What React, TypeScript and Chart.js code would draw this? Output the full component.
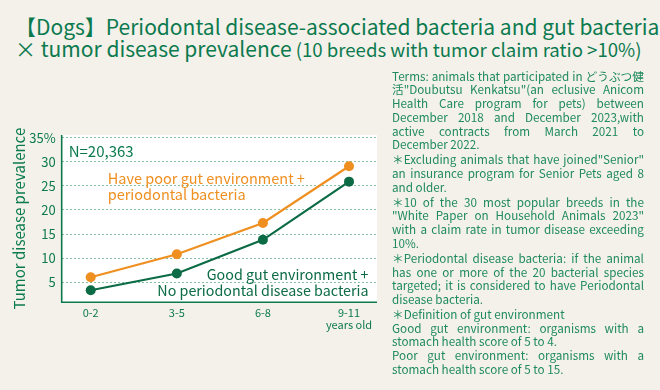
import React, { useEffect, useRef } from 'react';
import { Chart, registerables } from 'chart.js';

Chart.register(...registerables);

// ---- data ----
const ageGroups = ['0-2', '3-5', '6-8', '9-11'];
const ageSubLabels = ['', '', '', 'years old'];
const poorGutWithBacteria = [6.0, 10.8, 17.3, 29.1];
const goodGutNoBacteria = [3.3, 6.8, 13.8, 25.9];
const yTickValues = [5, 10, 15, 20, 25, 30, 35];

const titleLine1 = '【Dogs】Periodontal disease-associated bacteria and gut bacteria';
const titleLine2Main = '× tumor disease prevalence';
const titleLine2Sub = ' (10 breeds with tumor claim ratio >10%)';
const sampleLabel = 'N=20,363';
const poorLabel = ['Have poor gut environment +', 'periodontal bacteria'];
const goodLabel = ['Good gut environment +', 'No periodontal disease bacteria'];
const yAxisTitle = 'Tumor disease prevalence';

// [text, justified?]
const notes: [string, boolean][][] = [
  [
    ['Terms: animals that participated in どうぶつ健', true],
    ['活"Doubutsu Kenkatsu"(an eclusive Anicom', true],
    ['Health Care program for pets) between', true],
    ['December 2018 and December 2023,with', true],
    ['active contracts from March 2021 to', true],
    ['December 2022.', false],
  ],
  [
    ['＊Excluding animals that have joined"Senior"', true],
    ['an insurance program for Senior Pets aged 8', true],
    ['and older.', false],
  ],
  [
    ['＊10 of the 30 most popular breeds in the', true],
    ['"White Paper on Household Animals 2023"', true],
    ['with a claim rate in tumor disease exceeding', true],
    ['10%.', false],
  ],
  [
    ['＊Periodontal disease bacteria:  if the animal', true],
    ['has one or more of the 20 bacterial species', true],
    ['targeted; it is considered to have Periodontal', true],
    ['disease bacteria.', false],
  ],
  [
    ['＊Definition of gut environment', false],
    ['Good gut environment: organisms with a', true],
    ['stomach health score of 5 to 4.', false],
    ['Poor gut environment: organisms with a', true],
    ['stomach health score of 5 to 15.', false],
  ],
];

const FONT = '"Noto Sans CJK JP", "Noto Sans", sans-serif';
const GREEN = '#0c7a4f';
const NOTE_GREEN = '#1f8a5e';
const LINE_GREEN = '#0b6b45';
const ORANGE = '#ef8f1f';
const BG = '#f4f1ea';

function NoteLine({ text, justify }: { text: string; justify: boolean }) {
  if (!justify) {
    return <div style={{ whiteSpace: 'nowrap', height: 13.7 }}>{text}</div>;
  }
  const words = text.split(/\s+/);
  return (
    <div style={{ display: 'flex', justifyContent: 'space-between', whiteSpace: 'nowrap', height: 13.7 }}>
      {words.map((w, i) => (
        <span key={i}>{w}</span>
      ))}
    </div>
  );
}

export default function App() {
  const canvasRef = useRef<HTMLCanvasElement | null>(null);

  useEffect(() => {
    if (!canvasRef.current) return;

    const annotations = {
      id: 'annotations',
      beforeDraw(chart: any) {
        const { ctx, chartArea } = chart;
        ctx.save();
        ctx.fillStyle = '#ffffff';
        ctx.fillRect(chartArea.left, chartArea.top, chartArea.right - chartArea.left, chartArea.bottom - chartArea.top);
        ctx.restore();
      },
      afterDraw(chart: any) {
        const { ctx, chartArea } = chart;
        ctx.save();
        ctx.strokeStyle = GREEN;
        ctx.lineWidth = 1.6;
        ctx.setLineDash([]);
        ctx.beginPath();
        ctx.moveTo(chartArea.left, chartArea.top);
        ctx.lineTo(chartArea.left, chartArea.bottom);
        ctx.lineTo(chartArea.right, chartArea.bottom);
        ctx.stroke();
        ctx.restore();

        ctx.save();
        ctx.translate(19, (chartArea.top + chartArea.bottom) / 2);
        ctx.rotate(-Math.PI / 2);
        ctx.fillStyle = GREEN;
        ctx.font = `15px ${FONT}`;
        ctx.textAlign = 'center';
        ctx.textBaseline = 'middle';
        ctx.fillText(yAxisTitle, 0, 0);
        ctx.restore();

        ctx.save();
        ctx.textBaseline = 'middle';
        ctx.font = `15px ${FONT}`;
        ctx.fillStyle = GREEN;
        ctx.textAlign = 'left';
        ctx.fillText(sampleLabel, chartArea.left + 7, chartArea.top + 16);

        ctx.fillStyle = ORANGE;
        ctx.font = `14.5px ${FONT}`;
        poorLabel.forEach((t, i) => ctx.fillText(t, chartArea.left + 46, chartArea.top + 43 + i * 16.5));

        ctx.fillStyle = LINE_GREEN;
        ctx.font = `14.3px ${FONT}`;
        ctx.textAlign = 'right';
        goodLabel.forEach((t, i) => ctx.fillText(t, chartArea.right - 8.5, chartArea.top + 139.5 + i * 16.5));
        ctx.restore();
      },
    };

    const chart = new Chart(canvasRef.current, {
      type: 'line',
      data: {
        datasets: [
          {
            label: poorLabel.join(' '),
            data: poorGutWithBacteria.map((v, i) => ({ x: i, y: v })),
            borderColor: ORANGE,
            backgroundColor: ORANGE,
            borderWidth: 2.2,
            pointRadius: 5,
            pointBorderWidth: 0,
            pointBackgroundColor: ORANGE,
            clip: false as any,
          },
          {
            label: goodLabel.join(' '),
            data: goodGutNoBacteria.map((v, i) => ({ x: i, y: v })),
            borderColor: LINE_GREEN,
            backgroundColor: LINE_GREEN,
            borderWidth: 2.2,
            pointRadius: 5,
            pointBorderWidth: 0,
            pointBackgroundColor: LINE_GREEN,
            clip: false as any,
          },
        ],
      },
      options: {
        animation: false,
        responsive: false,
        maintainAspectRatio: false,
        layout: { padding: { left: 0, top: 135, right: 283, bottom: 57.7 } },
        plugins: {
          legend: { display: false },
          tooltip: { enabled: false },
          title: { display: false },
        },
        scales: {
          x: {
            type: 'linear',
            min: -0.337,
            max: 3.325,
            afterBuildTicks: (scale: any) => {
              scale.ticks = ageGroups.map((_, i) => ({ value: i }));
            },
            afterFit: (scale: any) => {
              scale.height = 30;
            },
            grid: { display: true, drawOnChartArea: false, drawTicks: false, color: 'rgba(0,0,0,0)' },
            border: { display: false },
            ticks: {
              padding: 5,
              color: GREEN,
              font: { family: FONT, size: 11, lineHeight: 1.05 },
              maxRotation: 0,
              autoSkip: false,
              callback: (v: any) => {
                const i = Math.round(Number(v));
                return ageSubLabels[i] ? [ageGroups[i], ageSubLabels[i]] : ageGroups[i];
              },
            },
          },
          y: {
            type: 'linear',
            min: 0.8,
            max: 35.6,
            afterBuildTicks: (scale: any) => {
              scale.ticks = yTickValues.map((v) => ({ value: v }));
            },
            afterFit: (scale: any) => {
              scale.width = 61.7;
            },
            grid: {
              display: true,
              drawTicks: false,
              color: '#86c2a3',
              lineWidth: 1,
            },
            border: { display: false, dash: [2, 2] },
            ticks: {
              padding: 6,
              color: GREEN,
              font: { family: FONT, size: 13 },
              callback: (v: any) => (Number(v) === 35 ? '35%' : String(v)),
            },
          },
        },
      },
      plugins: [annotations],
    } as any);

    return () => chart.destroy();
  }, []);

  return (
    <div style={{ position: 'absolute', left: 0, top: 0, width: 660, height: 390, background: BG, overflow: 'hidden', fontFamily: FONT }}>
      <div style={{ position: 'absolute', left: 15, top: 13.8, color: GREEN, fontSize: 21, lineHeight: '24px', whiteSpace: 'nowrap' }}>
        {titleLine1}
      </div>
      <div style={{ position: 'absolute', left: 15, top: 35.5, color: GREEN, fontSize: 21, lineHeight: '24px', whiteSpace: 'nowrap' }}>
        {titleLine2Main}
        <span style={{ fontSize: 18.6 }}>{titleLine2Sub}</span>
      </div>
      <canvas ref={canvasRef} width={660} height={390} style={{ position: 'absolute', left: 0, top: 0, width: 660, height: 390 }} />
      <div style={{ position: 'absolute', left: 392, top: 68.8, width: 252, color: NOTE_GREEN, fontSize: 11.7, lineHeight: '13.7px' }}>
        {notes.map((para, pi) => (
          <div key={pi} style={{ marginTop: pi === 0 ? 0 : 1.4 }}>
            {para.map(([line, justify], li) => (
              <NoteLine key={li} text={line} justify={justify} />
            ))}
          </div>
        ))}
      </div>
    </div>
  );
}
